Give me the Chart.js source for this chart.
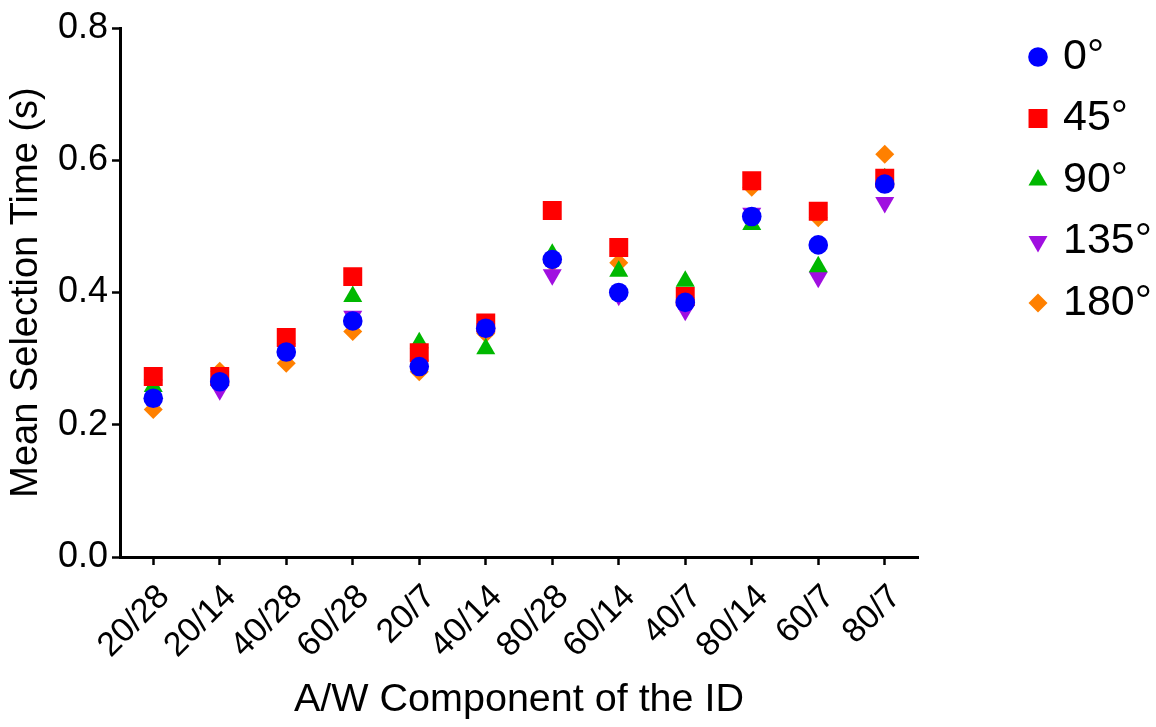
<!DOCTYPE html>
<html>
<head>
<meta charset="utf-8">
<style>
  html, body { margin: 0; padding: 0; background: #ffffff; }
  #wrap { position: relative; width: 1156px; height: 727px; }
</style>
<script src="https://cdn.jsdelivr.net/npm/chart.js@4.4.1/dist/chart.umd.min.js"></script>
</head>
<body>
<div id="wrap"><canvas id="chart" width="1156" height="727"></canvas></div>
<script>
// A/W combinations, in the order they are plotted
const categories = ['20/28', '20/14', '40/28', '60/28', '20/7', '40/14', '80/28', '60/14', '40/7', '80/14', '60/7', '80/7'];

// Mean selection time (s) per movement direction
const deg0   = [0.240, 0.265, 0.310, 0.357, 0.288, 0.346, 0.450, 0.400, 0.385, 0.515, 0.472, 0.564];
const deg45  = [0.273, 0.273, 0.332, 0.424, 0.309, 0.354, 0.524, 0.468, 0.394, 0.569, 0.523, 0.573];
const deg90  = [0.258, 0.268, 0.318, 0.394, 0.324, 0.315, 0.458, 0.432, 0.417, 0.503, 0.439, 0.572];
const deg135 = [0.260, 0.253, 0.315, 0.364, 0.290, 0.345, 0.427, 0.396, 0.373, 0.520, 0.423, 0.536];
const deg180 = [0.223, 0.281, 0.293, 0.341, 0.280, 0.338, 0.445, 0.445, 0.392, 0.559, 0.513, 0.609];

const seriesLabels = ['0°', '45°', '90°', '135°', '180°'];
const yTicks = [0.0, 0.2, 0.4, 0.6, 0.8];

const FONT = "'Liberation Sans', Arial, Helvetica, sans-serif";

const styles = [
  { color: '#0000FF', pointStyle: 'circle',   radius: 9.8,  rotation: 0 },
  { color: '#FF0000', pointStyle: 'rect',     radius: 13.4, rotation: 0 },
  { color: '#00B800', pointStyle: 'triangle', radius: 11,   rotation: 0 },
  { color: '#A00FE0', pointStyle: 'triangle', radius: 11,   rotation: 180 },
  { color: '#FF8000', pointStyle: 'rectRot',  radius: 9.5,  rotation: 0 }
];

const seriesValues = [deg0, deg45, deg90, deg135, deg180];

const datasets = seriesValues.map((vals, i) => ({
  label: seriesLabels[i],
  data: vals,
  showLine: false,
  pointStyle: styles[i].pointStyle,
  pointRotation: styles[i].rotation,
  pointRadius: styles[i].radius,
  pointHoverRadius: styles[i].radius,
  pointBackgroundColor: styles[i].color,
  pointBorderColor: styles[i].color,
  pointBorderWidth: 0,
  backgroundColor: styles[i].color,
  borderColor: styles[i].color
}));

// Legend drawn at the right of the plot: symbol followed by its label
const sideLegend = {
  id: 'sideLegend',
  afterDraw(chart) {
    const ctx = chart.ctx;
    ctx.save();
    chart.data.datasets.forEach((ds, i) => {
      const st = styles[i];
      const y = 57 + i * 61.5;
      ctx.fillStyle = st.color;
      ctx.strokeStyle = st.color;
      ctx.lineWidth = 0;
      Chart.helpers.drawPoint(ctx, {
        pointStyle: st.pointStyle,
        rotation: st.rotation,
        radius: st.radius,
        borderWidth: 0
      }, 1038, y);
      ctx.fillStyle = '#000000';
      ctx.font = '43px ' + FONT;
      ctx.textAlign = 'left';
      ctx.textBaseline = 'middle';
      ctx.fillText(ds.label, 1063, y);
    });
    ctx.restore();
  }
};

new Chart(document.getElementById('chart'), {
  type: 'line',
  data: { labels: categories, datasets },
  plugins: [sideLegend],
  options: {
    responsive: false,
    animation: false,
    events: [],
    layout: { padding: { top: 28, right: 238, left: 0, bottom: 0 } },
    plugins: {
      legend: { display: false },
      tooltip: { enabled: false }
    },
    scales: {
      x: {
        type: 'category',
        offset: true,
        afterFit(scale) { scale.height = 170; },
        border: { display: true, color: '#000000', width: 3 },
        grid: {
          display: true,
          drawOnChartArea: false,
          drawTicks: true,
          tickLength: 8,
          tickWidth: 2.5,
          tickColor: '#000000',
          offset: false
        },
        ticks: {
          color: '#000000',
          font: { family: FONT, size: 34 },
          maxRotation: 45,
          minRotation: 45,
          autoSkip: false,
          padding: 12,
          labelOffset: 11
        },
        title: {
          display: true,
          text: 'A/W Component of the ID',
          color: '#000000',
          font: { family: FONT, size: 39.5 },
          padding: { top: 0, bottom: 3 }
        }
      },
      y: {
        min: 0,
        max: 0.8,
        afterFit(scale) { scale.width = 120; },
        afterBuildTicks(scale) { scale.ticks = yTicks.map(v => ({ value: v })); },
        border: { display: true, color: '#000000', width: 3 },
        grid: {
          display: true,
          drawOnChartArea: false,
          drawTicks: true,
          tickLength: 8,
          tickWidth: 2.5,
          tickColor: '#000000'
        },
        ticks: {
          color: '#000000',
          font: { family: FONT, size: 36 },
          padding: 4,
          callback: (v) => Number(v).toFixed(1)
        },
        title: {
          display: true,
          text: 'Mean Selection Time (s)',
          color: '#000000',
          font: { family: FONT, size: 38 },
          padding: { top: 4, bottom: 0 }
        }
      }
    }
  }
});
</script>
</body>
</html>
